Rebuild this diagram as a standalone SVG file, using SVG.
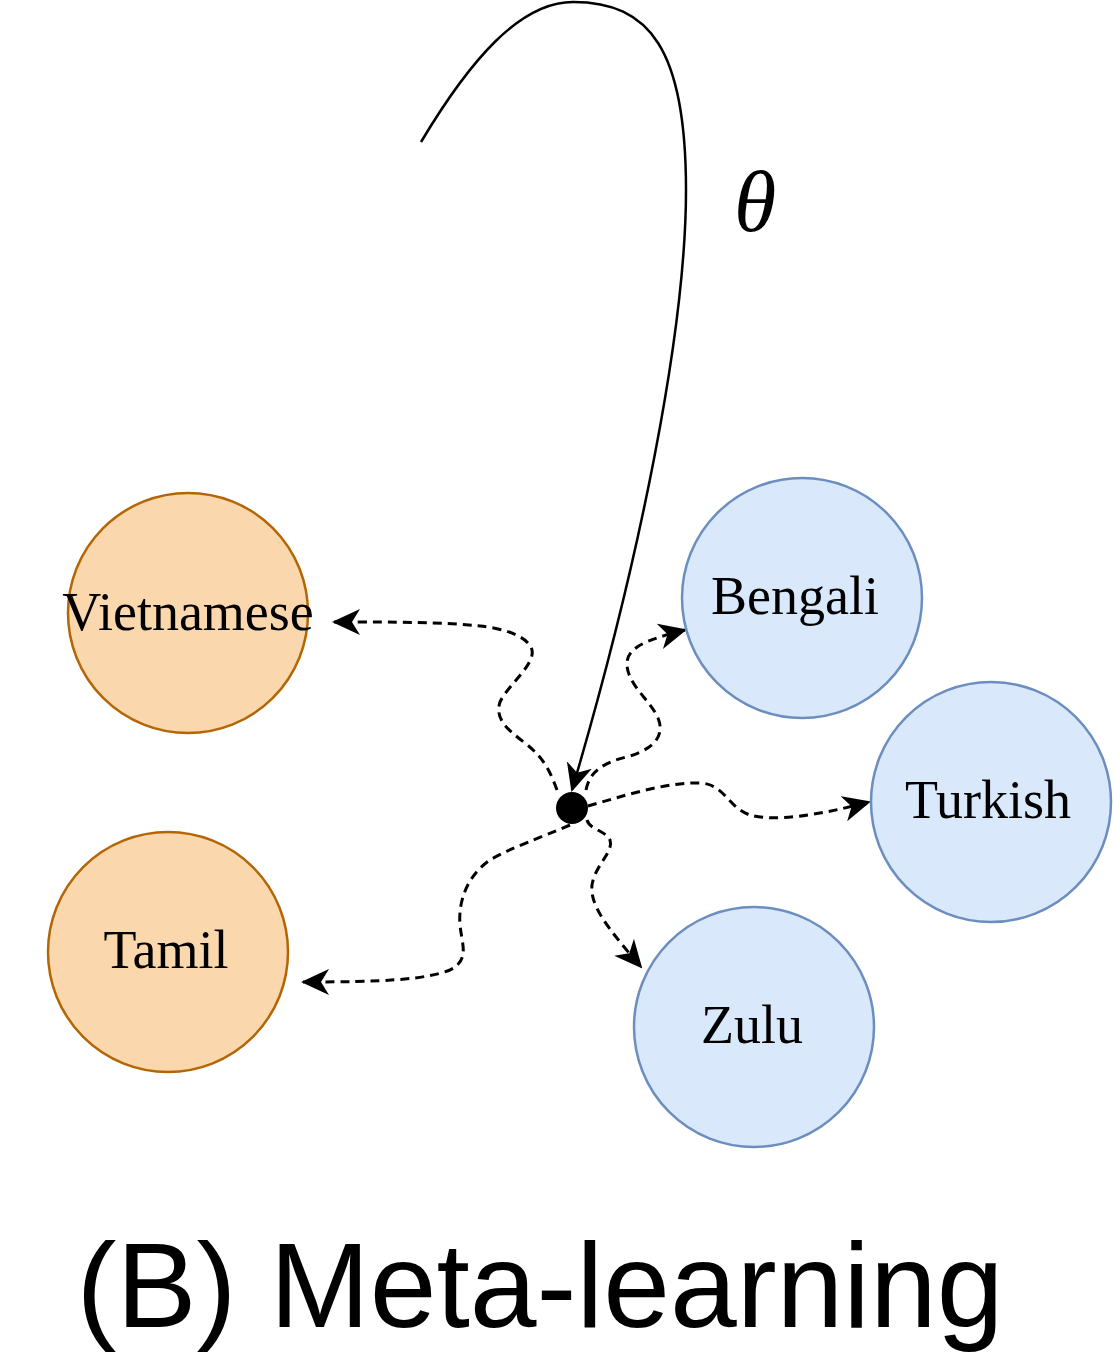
<svg xmlns="http://www.w3.org/2000/svg" width="1113" height="1353" viewBox="0 0 1113 1353">
<style>
.orange{fill:#fad7ac;stroke:#b46504;stroke-width:2.5}
.blue{fill:#dae8fc;stroke:#6c8ebf;stroke-width:2.5}
.lbl{font-family:"Liberation Serif","Times New Roman",serif;font-size:54px;fill:#000;text-anchor:middle}
.dash{fill:none;stroke:#000;stroke-width:3;stroke-dasharray:9,6;marker-end:url(#arr)}
.solid{fill:none;stroke:#000;stroke-width:2.5;marker-end:url(#arr)}
</style>
<defs>
<marker id="arr" viewBox="0 0 28 26" refX="26" refY="13" markerWidth="28" markerHeight="26" markerUnits="userSpaceOnUse" orient="auto">
<path d="M0,0 L28,13 L0,26 L8,13 Z" fill="#000" stroke="none"/>
</marker>
</defs>
<rect width="1113" height="1353" fill="#fff"/>
<g id="connectors">
<path class="solid" d="M421,142 C470,60 520,2 573,2 C650,2 686,50 686,190 C686,330 640,560 572,790"/>
<path class="dash" d="M557,790 C548,765 540,755 525,743 C505,728 495,718 500,702 C508,685 535,665 532,650 C528,635 500,628 480,626 C440,622 400,622 334,622"/>
<path class="dash" d="M586,790 C590,770 605,762 630,756 C655,748 665,735 658,718 C650,700 628,685 627,665 C626,648 645,640 685,630"/>
<path class="dash" d="M588,806 C620,797 665,782 700,783 C725,784 728,808 750,815 C775,822 820,815 869,802"/>
<path class="dash" d="M587,820 C590,830 605,830 610,840 C614,852 595,865 592,885 C590,905 605,925 641,967"/>
<path class="dash" d="M570,825 C540,838 510,848 490,860 C468,875 458,900 460,925 C462,945 470,960 450,970 C425,980 380,982 303,982"/>
</g>
<g id="node-vietnamese">
<circle class="orange" cx="188" cy="613" r="120"/>
<text class="lbl" x="188" y="630">Vietnamese</text>
</g>
<g id="node-tamil">
<circle class="orange" cx="168" cy="952" r="120"/>
<text class="lbl" x="166" y="968">Tamil</text>
</g>
<g id="node-bengali">
<circle class="blue" cx="802" cy="598" r="120"/>
<text class="lbl" x="795" y="614">Bengali</text>
</g>
<g id="node-turkish">
<circle class="blue" cx="991" cy="802" r="120"/>
<text class="lbl" x="988" y="818">Turkish</text>
</g>
<g id="node-zulu">
<circle class="blue" cx="754" cy="1027" r="120"/>
<text class="lbl" x="752" y="1043">Zulu</text>
</g>
<g id="node-theta-point">
<circle cx="572" cy="808" r="16" fill="#000"/>
</g>
<text x="755" y="231" font-family="Liberation Serif,'Times New Roman',serif" font-style="italic" font-size="86" text-anchor="middle">θ</text>
<text x="540" y="1327" font-family="Liberation Sans,Arial,Helvetica,sans-serif" font-size="120" text-anchor="middle">(B) Meta-learning</text>
</svg>
